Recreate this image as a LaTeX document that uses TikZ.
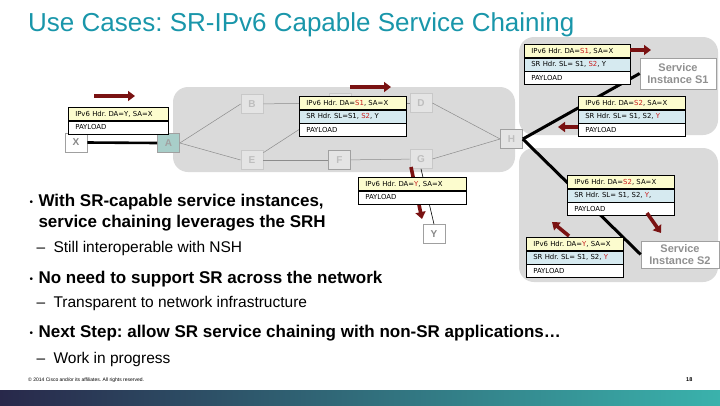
\documentclass[tikz,border=0pt]{standalone}
\usepackage{fontspec}
\setmainfont{Liberation Sans}
\newfontfamily\pkfont{DejaVu Sans}
\usetikzlibrary{arrows.meta}
\definecolor{titleC}{RGB}{25,150,170}
\definecolor{regionC}{RGB}{218,218,218}
\definecolor{rowY}{RGB}{252,252,206}
\definecolor{rowB}{RGB}{214,234,240}
\definecolor{hl}{RGB}{200,30,30}
\definecolor{arrRed}{RGB}{122,18,18}
\definecolor{nFill}{RGB}{228,228,228}
\definecolor{nBorder}{RGB}{200,200,200}
\definecolor{nText}{RGB}{190,190,190}
\definecolor{nDark}{RGB}{160,160,160}
\definecolor{aFill}{RGB}{168,206,201}
\definecolor{edgeC}{RGB}{140,140,140}
\definecolor{barL}{RGB}{40,40,74}
\definecolor{barR}{RGB}{58,178,172}
\tikzset{
  region/.style={fill=regionC, draw=none, rounded corners=15pt},
  nb/.style={draw=nBorder, fill=nFill, line width=0.7pt, minimum width=22pt, minimum height=19pt, inner sep=0pt,
    font=\bfseries\fontsize{10}{10}\selectfont, text=nText},
  nbd/.style={nb, draw=nDark},
  nw/.style={nb, fill=white, draw=nDark, text=nDark!85!black},
  svc/.style={draw=nDark, fill=white, line width=0.7pt, align=center, inner sep=1pt,
    font=\bfseries\fontsize{11}{12.5}\selectfont, text=nDark!90!black},
  edge/.style={draw=edgeC, line width=0.5pt},
  thick link/.style={draw=black, line width=3pt},
  thin link/.style={draw=black, line width=0.6pt},
  arr/.style={draw=arrRed, line width=3.6pt, -{Triangle[length=7pt,width=10pt]}},
  row/.style={draw=black, line width=0.6pt, minimum height=13pt, inner ysep=0pt, inner xsep=7pt,
    anchor=north west, align=left, font=\pkfont\fontsize{6.9}{7}\selectfont},
  hy/.style={row, fill=rowY}, hb/.style={row, fill=rowB}, hw/.style={row, fill=white},
  big/.style={anchor=base west, font=\bfseries\fontsize{17}{20}\selectfont},
  sub/.style={anchor=base west, font=\fontsize{15.5}{18}\selectfont},
  bul/.style={anchor=base west, font=\fontsize{10}{12}\selectfont},
}
\newcommand{\hlt}[1]{\textcolor{hl}{#1}}
\frenchspacing
\begin{document}
\begin{tikzpicture}[x=1pt,y=-1pt]
\useasboundingbox (0,0) rectangle (720,405);
% title
\node[anchor=base west, inner sep=0pt, text=titleC, font=\fontsize{26}{30}\selectfont] (title) at (28,31) {Use Cases: SR-IPv6 Capable Service Chaining};
% regions
\fill[region] (173,87) rectangle (515,172);
\fill[region] (519,37) rectangle (718,135);
\fill[region] (519,148) rectangle (718,282);
% network nodes
\node[nw] (X) at (76,142.5) {X};
\node[nb, fill=aFill, draw=nDark, text=nDark] (A) at (168.5,143) {A};
\node[nb] (B) at (252,104) {B};
\node[nb] (C) at (340,103) {};
\node[nb] (D) at (421,103) {D};
\node[nb] (E) at (252,160) {E};
\node[nbd] (F) at (339.5,160) {F};
\node[nb] (G) at (421,159) {G};
\node[nbd] (H) at (511.5,139) {H};
\node[nw] (Y) at (434,234) {Y};
\node[svc, minimum width=76pt, minimum height=31pt] (S1) at (678,73.5) {Service\\Instance S1};
\node[svc, minimum width=78pt, minimum height=27pt] (S2) at (680,254.5) {Service\\Instance S2};
% edges in the network
\draw[edge] (A.east) -- (B.west);
\draw[edge] (A.east) -- (E.west);
\draw[edge] (B) -- (C);
\draw[edge] (E) -- (C);
\draw[edge] (C) -- (D);
\draw[edge] (D.east) -- (H.west);
\draw[edge] (E) -- (F);
\draw[edge] (F) -- (G);
\draw[edge] (G.east) -- (H.west);
% links
\draw[thick link, line width=2.6pt] (X.east) -- (A.west);
\draw[thick link] (H.east) -- (S1.west);
\draw[thick link] (H.east) -- (S2.west);
\draw[thin link] (G.south) -- (Y.north);
% arrow G -> Y (behind packet)
\coordinate (g1) at (411,167);
\coordinate (g2) at (422,219);
\draw[arr] (g1) -- (g2);
% packet 1 (at X)
\node[hy, text width=86pt] (p1a) at (68,107) {IPv6 Hdr. DA=Y, SA=X};
\node[hw, text width=86pt] (p1b) at (p1a.south west) {PAYLOAD};
% packet 2 (in network)
\node[hy, text width=93pt] (p2a) at (299,96) {IPv6 Hdr. DA=\hlt{S1}, SA=X};
\node[hb, text width=93pt] (p2b) at (p2a.south west) {SR Hdr. SL=S1, \hlt{S2}, Y};
\node[hw, text width=93pt] (p2c) at (p2b.south west) {PAYLOAD};
% packet 3 (to S1)
\node[hy, text width=92pt] (p3a) at (524,44) {IPv6 Hdr. DA=\hlt{S1}, SA=X};
\node[hb, text width=92pt] (p3b) at (p3a.south west) {SR Hdr. SL= S1, \hlt{S2}, Y};
\node[hw, text width=92pt] (p3c) at (p3b.south west) {PAYLOAD};
% packet 4 (from S1)
\node[hy, text width=93pt] (p4a) at (578,96) {IPv6 Hdr. DA=\hlt{S2}, SA=X};
\node[hb, text width=93pt] (p4b) at (p4a.south west) {SR Hdr. SL= S1, S2, \hlt{Y}};
\node[hw, text width=93pt] (p4c) at (p4b.south west) {PAYLOAD};
% packet 5 (G to Y)
\node[hy, text width=94pt] (p5a) at (358,177) {IPv6 Hdr. DA=\hlt{Y}, SA=X};
\node[hw, text width=94pt] (p5b) at (p5a.south west) {PAYLOAD};
% packet 6 (to S2)
\node[hy, text width=93pt] (p6a) at (567,175) {IPv6 Hdr. DA=\hlt{S2}, SA=X};
\node[hb, text width=93pt] (p6b) at (p6a.south west) {SR Hdr. SL= S1, S2, \hlt{Y},};
\node[hw, text width=93pt] (p6c) at (p6b.south west) {PAYLOAD};
% packet 7 (from S2)
\node[hy, text width=83pt] (p7a) at (526,237) {IPv6 Hdr. DA=\hlt{Y}, SA=X};
\node[hb, text width=83pt] (p7b) at (p7a.south west) {SR Hdr. SL= S1, S2, \hlt{Y}};
\node[hw, text width=83pt] (p7c) at (p7b.south west) {PAYLOAD};
% direction arrows
\coordinate (a1s) at (94,96);   \coordinate (a1e) at (135,96);
\coordinate (a2s) at (350,87);  \coordinate (a2e) at (391,87);
\coordinate (a3s) at (630,50);  \coordinate (a3e) at (651,50);
\coordinate (a4s) at (578,127); \coordinate (a4e) at (558,127);
\coordinate (a5s) at (647,213); \coordinate (a5e) at (661,233);
\coordinate (a6s) at (569,236); \coordinate (a6e) at (552,222);
\draw[arr] (a1s) -- (a1e);
\draw[arr] (a2s) -- (a2e);
\draw[arr] (a3s) -- (a3e);
\draw[arr] (a4s) -- (a4e);
\draw[arr] (a5s) -- (a5e);
\draw[arr] (a6s) -- (a6e);
% bullets
\node[bul] (b1) at (26,205) {•};
\node[big] (t1) at (35,206) {With SR-capable service instances,};
\node[big] (t2) at (35,227) {service chaining leverages the SRH};
\node[sub] (d1) at (33,252) {–};
\node[sub] (t3) at (50,252) {Still interoperable with NSH};
\node[bul] (b2) at (26,282) {•};
\node[big] (t4) at (35,283) {No need to support SR across the network};
\node[sub] (d2) at (33,307) {–};
\node[sub] (t5) at (50,307) {Transparent to network infrastructure};
\node[bul] (b3) at (26,336) {•};
\node[big] (t6) at (35,337) {Next Step: allow SR service chaining with non-SR applications…};
\node[sub] (d3) at (33,363) {–};
\node[sub] (t7) at (50,363) {Work in progress};
% footer
\node[anchor=base west, inner sep=0pt, font=\fontsize{5}{6}\selectfont] (foot) at (28,381) {© 2014 Cisco and/or its affiliates. All rights reserved.};
\node[anchor=base west, inner sep=0pt, font=\bfseries\fontsize{5.5}{6}\selectfont] (pg) at (686,381) {18};
\shade[left color=barL, right color=barR] (0,390) rectangle (720,405);
\end{tikzpicture}
\end{document}
